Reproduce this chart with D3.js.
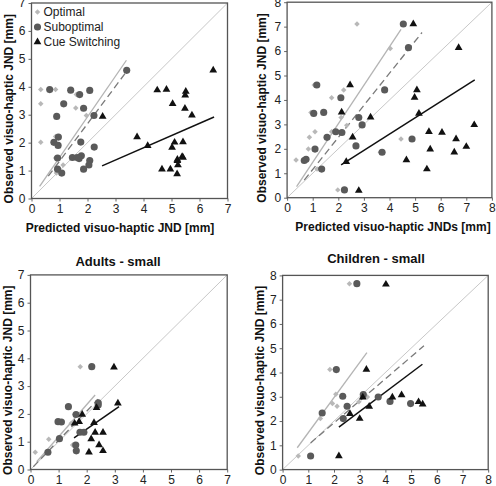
<!DOCTYPE html>
<html>
<head>
<meta charset="utf-8">
<script src="https://cdn.jsdelivr.net/npm/d3@7"></script>
<style>
  body { margin: 0; background: #fff; }
  svg { display: block; font-family: "Liberation Sans", Arial, sans-serif; }
</style>
</head>
<body>
<div id="chart"></div>
<script>
// ---- data (predicted JND, observed JND) in mm ----

// top left (adults, large)
const adultsLargeOptimal = [[0.33,3.9],[0.86,3.9],[0.33,3.39],[1.58,3.24],[1.6,3.72],[1.96,2.97],[0.33,2.01],[0.86,2.22],[0.86,1.45],[1.13,1.2],[0.89,0.91],[1.66,1.42]];
const adultsLargeSuboptimal = [[0.65,3.9],[1.4,3.88],[1.72,3.72],[2.08,3.87],[1.15,3.39],[1.86,3.23],[0.9,2.94],[2.23,2.97],[3.4,4.59],[0.96,2.2],[0.8,2.01],[0.95,1.9],[1.76,2.02],[2.24,1.84],[0.93,1.45],[1.46,1.47],[1.63,1.47],[1.78,1.53],[1.7,1.43],[2.08,1.36],[2.05,1.2],[0.93,1.05],[1.08,0.91],[1.86,1.05]];
const adultsLargeCue = [[6.49,4.59],[4.49,3.88],[4.82,3.9],[5.51,3.83],[5.49,3.7],[5.04,3.39],[5.48,3.22],[5.73,2.98],[2.54,2.94],[3.77,2.2],[4.15,1.89],[5.11,2.01],[5.41,2.02],[5.02,1.83],[5.38,1.5],[5.41,1.47],[5.21,1.4],[5.21,1.35],[5.23,1.2],[4.66,1.05],[4.96,1.05],[5.2,0.88]];

// top right (children, large)
const childrenLargeOptimal = [[2.73,7.11],[4.03,6.11],[1.06,4.61],[2.21,4.41],[1.74,4.09],[0.93,3.49],[2.11,3.28],[1.09,2.7],[0.87,2.47],[0.83,1.99],[0.35,1.54],[1.17,1.17],[3.64,1.86],[4.45,2.4],[1.98,0.32],[2.33,2.96],[1.74,2.7]];
const childrenLargeSuboptimal = [[4.54,7.11],[4.74,6.14],[1.16,4.61],[3.81,4.41],[2.1,4.09],[1.04,3.45],[1.43,3.49],[2.8,3.28],[2.93,2.98],[1.9,2.7],[2.14,2.67],[1.56,2.47],[2.69,2.12],[1.09,1.99],[4.88,2.4],[3.71,1.86],[0.67,1.52],[0.74,1.57],[1.35,1.17],[2.24,0.32]];
const childrenLargeCue = [[4.93,7.11],[6.7,6.14],[2.46,4.61],[5.07,4.41],[4.98,4.1],[2.13,3.5],[3.26,3.29],[5.15,3.45],[7.31,2.98],[5.54,2.7],[6.05,2.67],[6.6,2.4],[7.0,2.09],[5.59,1.98],[6.53,1.86],[2.56,2.47],[4.66,1.54],[2.31,1.47],[5.46,1.17],[2.8,0.29]];

// bottom left (adults, small)
const adultsSmallOptimal = [[1.77,3.7],[0.65,1.09],[0.17,0.62],[1.58,1.98],[1.45,1.66],[1.5,0.88],[2.38,2.36]];
const adultsSmallSuboptimal = [[2.18,3.7],[1.35,2.26],[1.62,1.98],[2.41,2.4],[2.41,2.32],[0.98,1.72],[1.1,1.71],[1.76,1.34],[1.9,1.34],[1.03,1.11],[1.61,0.88],[1.63,0.67],[0.62,0.62]];
const adultsSmallCue = [[2.97,3.68],[3.11,2.38],[2.35,2.22],[1.84,1.98],[1.73,1.72],[1.57,1.66],[2.26,1.68],[2.3,1.33],[2.58,1.33],[2.16,1.1],[2.44,0.88],[2.58,0.67],[2.08,0.62]];

// bottom right (children, small)
const childrenSmallOptimal = [[2.6,7.66],[1.84,4.12],[2.07,3.1],[1.94,2.72],[2.12,2.61],[2.97,2.79],[3.3,2.99],[1.56,2.33],[1.47,2.1],[0.61,0.56]];
const childrenSmallSuboptimal = [[2.89,7.66],[2.09,4.12],[2.34,3.02],[3.14,3.09],[3.72,2.99],[2.51,2.61],[4.18,2.81],[4.98,2.72],[1.54,2.33],[2.36,2.1],[1.09,0.56]];
const childrenSmallCue = [[4.02,7.63],[3.26,4.12],[3.12,2.98],[4.27,2.98],[4.63,3.07],[5.29,2.79],[5.45,2.69],[3.37,2.6],[2.62,2.3],[3.0,2.1],[2.19,0.56]];

// regression lines [x1, y1, x2, y2] : optimal, suboptimal, cue switching
const adultsLargeFits = [[0.29,0.43,3.39,4.95],[0.6,0.8,3.36,4.5],[2.52,1.17,6.52,2.92]];
const childrenLargeFits = [[0.37,0.45,4.45,6.89],[0.67,0.72,5.27,6.76],[2.11,1.34,7.33,4.82]];
const adultsSmallFits = [[0.22,0.28,2.3,2.68],[0.1,0.1,2.41,2.53],[1.55,1.14,3.15,2.26]];
const childrenSmallFits = [[0.57,0.9,3.28,4.82],[1.09,1.1,5.5,5.1],[2.19,1.75,5.44,4.34]];

const groupNames = ["Optimal", "Suboptimal", "Cue Switching"];

// ---- layout ----
const width = 496, height = 486;
const panels = [
  { left: 31.5, right: 227.5, top: 3, bottom: 198.5, max: 7,
    sets: [adultsLargeOptimal, adultsLargeSuboptimal, adultsLargeCue], fits: adultsLargeFits,
    xLabel: "Predicted visuo-haptic JND [mm]", xLabelX: 120, legend: true, yLabelX: 9 },
  { left: 287.1, right: 491.9, top: 2.2, bottom: 197.7, max: 8,
    sets: [childrenLargeOptimal, childrenLargeSuboptimal, childrenLargeCue], fits: childrenLargeFits,
    xLabel: "Predicted visuo-haptic JNDs [mm]", xLabelX: 393, yLabelX: 262 },
  { left: 30.5, right: 227.2, top: 274.9, bottom: 469.5, max: 7,
    sets: [adultsSmallOptimal, adultsSmallSuboptimal, adultsSmallCue], fits: adultsSmallFits,
    title: "Adults - small", titleX: 118, titleY: 266, yLabelX: 8 },
  { left: 282.6, right: 488.2, top: 275.4, bottom: 469.6, max: 8,
    sets: [childrenSmallOptimal, childrenSmallSuboptimal, childrenSmallCue], fits: childrenSmallFits,
    title: "Children - small", titleX: 376, titleY: 263, yLabelX: 260 }
];

const svg = d3.select("#chart").append("svg")
  .attr("width", width)
  .attr("height", height);

// small diamond, a square turned on its corner
const diamond = {
  draw(ctx, size) {
    const r = Math.sqrt(size / 2);
    ctx.moveTo(0, -r); ctx.lineTo(r, 0); ctx.lineTo(0, r); ctx.lineTo(-r, 0); ctx.closePath();
  }
};
const markerPath = [
  d3.symbol().type(diamond).size(15)(),
  d3.symbol().type(d3.symbolCircle).size(40)(),
  d3.symbol().type(d3.symbolTriangle).size(26)()
];
const markerColor = ["#b8b8b8", "#5a5a5a", "#111"];
const fitStyle = [
  { stroke: "#b4b4b4", width: 1.3, dash: null },
  { stroke: "#7a7a7a", width: 1.3, dash: "7,4" },
  { stroke: "#111", width: 1.5, dash: null }
];

panels.forEach(p => {
  const x = d3.scaleLinear().domain([0, p.max]).range([p.left, p.right]);
  const y = d3.scaleLinear().domain([0, p.max]).range([p.bottom, p.top]);
  const g = svg.append("g");

  // axes
  g.append("g")
    .attr("transform", `translate(0,${p.bottom})`)
    .call(d3.axisBottom(x).ticks(p.max).tickSize(3).tickPadding(3))
    .call(a => a.select(".domain").remove())
    .call(a => a.selectAll("line").attr("stroke", "#666"))
    .call(a => a.selectAll("text").attr("font-size", 12).attr("fill", "#222").attr("font-family", "Liberation Sans, Arial"));
  g.append("g")
    .attr("transform", `translate(${p.left},0)`)
    .call(d3.axisLeft(y).ticks(p.max).tickSize(3).tickPadding(3))
    .call(a => a.select(".domain").remove())
    .call(a => a.selectAll("line").attr("stroke", "#666"))
    .call(a => a.selectAll("text").attr("font-size", 12).attr("fill", "#222").attr("font-family", "Liberation Sans, Arial"));

  // identity line
  g.append("line")
    .attr("x1", x(0)).attr("y1", y(0))
    .attr("x2", x(p.max)).attr("y2", y(p.max))
    .attr("stroke", "#c8c8c8").attr("stroke-width", 1);

  // fitted lines
  p.fits.forEach((f, i) => {
    g.append("line")
      .attr("x1", x(f[0])).attr("y1", y(f[1]))
      .attr("x2", x(f[2])).attr("y2", y(f[3]))
      .attr("stroke", fitStyle[i].stroke)
      .attr("stroke-width", fitStyle[i].width)
      .attr("stroke-dasharray", fitStyle[i].dash);
  });

  // points
  p.sets.forEach((set, i) => {
    g.selectAll(null)
      .data(set)
      .enter()
      .append("path")
      .attr("d", markerPath[i])
      .attr("transform", d => `translate(${x(d[0])},${y(d[1])})`)
      .attr("fill", markerColor[i]);
  });

  // frame
  g.append("rect")
    .attr("x", p.left).attr("y", p.top)
    .attr("width", p.right - p.left).attr("height", p.bottom - p.top)
    .attr("fill", "none").attr("stroke", "#555").attr("stroke-width", 1.3);

  // axis titles
  g.append("text")
    .attr("transform", `translate(${p.yLabelX},${(p.top + p.bottom) / 2 + 8}) rotate(-90)`)
    .attr("text-anchor", "middle")
    .attr("dy", "0.35em")
    .attr("font-size", 12).attr("font-weight", "bold").attr("fill", "#111")
    .text("Observed visuo-haptic JND [mm]");
  if (p.xLabel) {
    g.append("text")
      .attr("x", p.xLabelX).attr("y", p.bottom + 33)
      .attr("text-anchor", "middle")
      .attr("font-size", 12).attr("font-weight", "bold").attr("fill", "#111")
      .text(p.xLabel);
  }
  if (p.title) {
    g.append("text")
      .attr("x", p.titleX).attr("y", p.titleY)
      .attr("text-anchor", "middle")
      .attr("font-size", 13).attr("font-weight", "bold").attr("fill", "#111")
      .text(p.title);
  }

  // legend
  if (p.legend) {
    groupNames.forEach((name, i) => {
      const ly = p.top + 9 + i * 15;
      g.append("path")
        .attr("d", markerPath[i])
        .attr("transform", `translate(${p.left + 6},${ly})`)
        .attr("fill", markerColor[i]);
      g.append("text")
        .attr("x", p.left + 12).attr("y", ly)
        .attr("dy", "0.35em")
        .attr("font-size", 12).attr("fill", "#222")
        .text(name);
    });
  }
});
</script>
</body>
</html>
